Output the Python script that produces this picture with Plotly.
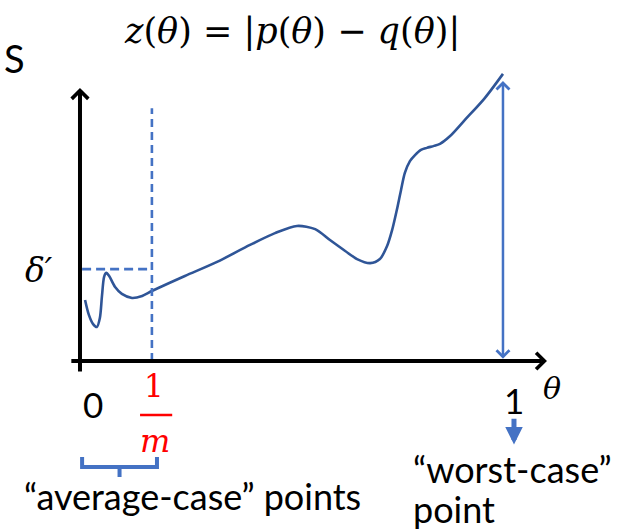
import plotly.graph_objects as go

# z(θ) = |p(θ) - q(θ)| sampled along θ in [0, 1]
theta = [0.012, 0.021, 0.031, 0.040, 0.047, 0.052, 0.057, 0.062, 0.069, 0.083,
         0.099, 0.123, 0.147, 0.170, 0.248, 0.324, 0.402, 0.461, 0.513, 0.556,
         0.591, 0.627, 0.655, 0.686, 0.709, 0.726, 0.738, 0.749, 0.759, 0.768,
         0.780, 0.792, 0.806, 0.820, 0.837, 0.851, 0.875, 0.910, 0.957, 1.000]
z = [0.212, 0.160, 0.128, 0.118, 0.149, 0.226, 0.292, 0.306, 0.295, 0.257,
     0.233, 0.219, 0.226, 0.243, 0.295, 0.344, 0.403, 0.444, 0.469, 0.458,
     0.420, 0.382, 0.354, 0.340, 0.354, 0.399, 0.455, 0.524, 0.594, 0.653,
     0.694, 0.715, 0.733, 0.740, 0.747, 0.754, 0.781, 0.837, 0.913, 0.997]

inv_m = 0.170          # θ = 1/m
delta_prime = 0.319    # level δ′
theta_worst = 1.0      # worst-case point
z_worst = 0.972        # top of the worst-case span
brace_span = [0.005, 0.182]

x_ticks = ["0", "1"]
x_tick_vals = [0.0, 1.0]

W, H = 624, 532
X_RANGE = [-0.1891, 1.2861]
Y_RANGE = [-0.5938, 1.2535]

CURVE = "#2F5597"
ACCENT = "#4472C4"
SANS = "Lato, 'Open Sans', sans-serif"
SERIF = "'DejaVu Serif', 'Liberation Serif', serif"


def px(x):
    return x / W


def py(y):
    return 1 - y / H


fig = go.Figure()

# the curve
fig.add_trace(go.Scatter(x=theta, y=z, mode="lines",
                         line=dict(color=CURVE, width=2.6, shape="spline", smoothing=0.8),
                         hoverinfo="skip", showlegend=False))

# dashed guides at θ = 1/m and z = δ′
fig.add_trace(go.Scatter(x=[inv_m, inv_m], y=[0, 0.878], mode="lines",
                         line=dict(color=ACCENT, width=2.6, dash="8px,5px"),
                         hoverinfo="skip", showlegend=False))
fig.add_trace(go.Scatter(x=[0.005, inv_m], y=[delta_prime, delta_prime], mode="lines",
                         line=dict(color=ACCENT, width=2.6, dash="9px,5px"),
                         hoverinfo="skip", showlegend=False))

# axes with arrowheads
fig.add_annotation(x=0, y=0.948, ax=0, ay=-0.042, xref="x", yref="y", axref="x", ayref="y",
                   text="", showarrow=True, arrowhead=4, arrowsize=0.8, arrowwidth=4,
                   arrowcolor="black")
fig.add_annotation(x=1.104, y=0, ax=-0.024, ay=0, xref="x", yref="y", axref="x", ayref="y",
                   text="", showarrow=True, arrowhead=4, arrowsize=0.8, arrowwidth=4,
                   arrowcolor="black")

# worst-case span, double headed
fig.add_annotation(x=theta_worst, y=z_worst, ax=theta_worst, ay=0.003,
                   xref="x", yref="y", axref="x", ayref="y",
                   text="", showarrow=True, arrowhead=4, startarrowhead=4,
                   arrowside="end+start", arrowsize=1.0, startarrowsize=1.0,
                   arrowwidth=2.5, arrowcolor=ACCENT)

# brace under [0, 1/m]
x0, x1 = brace_span
xm = (x0 + x1) / 2
ytop, ybar, ystem = -0.333, -0.368, -0.403
fig.add_shape(type="path", xref="x", yref="y",
              path=f"M {x0},{ytop} L {x0},{ybar} L {x1},{ybar} L {x1},{ytop} "
                   f"M {xm},{ybar} L {xm},{ystem}",
              line=dict(color=ACCENT, width=4))

# fraction bar of 1/m
fig.add_shape(type="line", xref="x", yref="y",
              x0=inv_m - 0.028, x1=inv_m + 0.048, y0=-0.1875, y1=-0.1875,
              line=dict(color="red", width=2.5))

# small arrow under θ = 1
fig.add_annotation(x=1.026, y=-0.29, ax=1.026, ay=-0.195, xref="x", yref="y",
                   axref="x", ayref="y", text="", showarrow=True, arrowhead=2,
                   arrowsize=0.7, arrowwidth=5, arrowcolor=ACCENT)

# tick labels
for v, t, shift, ypix in zip(x_tick_vals, x_ticks, [13, 11], [404, 400]):
    fig.add_annotation(x=v, y=py(ypix), xref="x", yref="paper", xshift=shift,
                       xanchor="center", yanchor="middle",
                       text=t, showarrow=False, font=dict(family=SANS, size=35, color="black"))

texts = [
    (292, 31, "<i>z</i>(<i>θ</i>) = |<i>p</i>(<i>θ</i>) − <i>q</i>(<i>θ</i>)|", SERIF, 35, "black"),
    (14, 58, "S", SANS, 38, "black"),
    (39, 270, "<i>δ′</i>", SERIF, 33, "black"),
    (552, 388, "<i>θ</i>", SERIF, 30, "black"),
    (154, 386, "1", SERIF, 31, "red"),
    (155, 441, "<i>m</i>", SERIF, 32, "red"),
    (192, 496, "“average-case” points", SANS, 36, "black"),
]
for x, y, t, fam, size, col in texts:
    fig.add_annotation(x=px(x), y=py(y), xref="paper", yref="paper", text=t,
                       showarrow=False, xanchor="center", yanchor="middle",
                       font=dict(family=fam, size=size, color=col))

# two-line caption of the worst-case point
for y, t in [(469, "“worst-case”"), (509, "point")]:
    fig.add_annotation(x=px(411), y=py(y), xref="paper", yref="paper", text=t,
                       showarrow=False, xanchor="left", yanchor="middle",
                       font=dict(family=SANS, size=36, color="black"))

fig.update_layout(width=W, height=H, margin=dict(l=0, r=0, t=0, b=0),
                  paper_bgcolor="white", plot_bgcolor="white",
                  xaxis=dict(range=X_RANGE, visible=False, fixedrange=True),
                  yaxis=dict(range=Y_RANGE, visible=False, fixedrange=True))

fig.write_html("out.html")
